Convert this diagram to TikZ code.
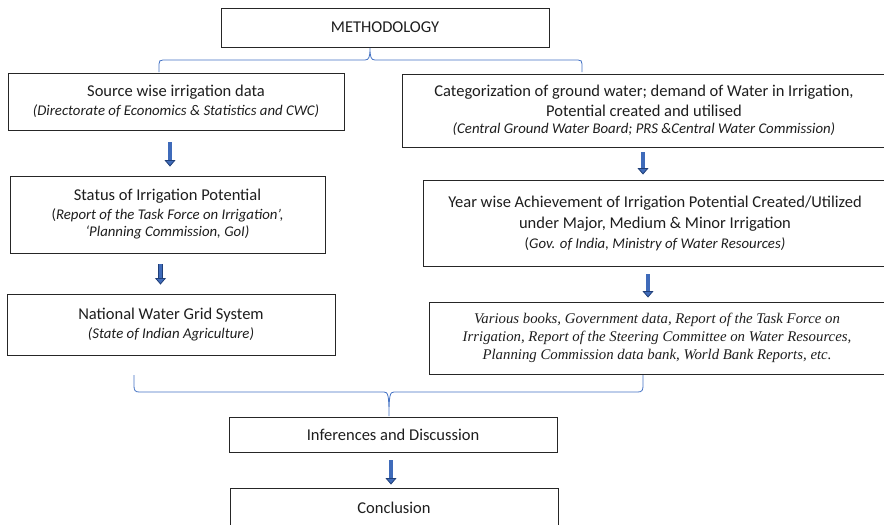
\documentclass[tikz,border=0pt]{standalone}
\usepackage{fontspec}
\setmainfont{Carlito}
\newfontfamily\timesfam{Liberation Serif}
\usetikzlibrary{arrows.meta}
\definecolor{braceblue}{HTML}{4472C4}
\definecolor{afill}{HTML}{3F6BBA}
\definecolor{adark}{HTML}{203F78}
\definecolor{boxline}{HTML}{262626}
\definecolor{txt}{HTML}{1E1E1E}
\begin{document}
\begin{tikzpicture}[x=1pt,y=-1pt,
  box/.style={draw=boxline, line width=0.9pt, inner sep=0pt, align=center, text=txt,
    font=\fontsize{16.5}{19.5}\selectfont},
  blockarrow/.style={draw=adark, line width=0.8pt, double=afill, double distance=3.2pt,
    -{Triangle[width=11pt,length=6.5pt,fill=afill,line width=0.8pt]}},
  brace/.style={draw=braceblue, line width=0.8pt}
]
\newcommand{\srcfont}{\fontsize{14.8}{18}\selectfont}
\clip (0,0) rectangle (884,525);
\fill[white] (0,0) rectangle (884,525);

\node[box, minimum width=328pt, minimum height=39pt] (meth) at (385,27.5) {METHODOLOGY};

\node[box, minimum width=336pt, minimum height=57pt] (source) at (176,101.5)
  {Source wise irrigation data\\[-1pt]{\srcfont\itshape (Directorate of Economics \& Statistics and CWC)}};

\node[box, minimum width=315pt, minimum height=77pt] (status) at (167.5,214.5)
  {Status of Irrigation Potential\\[-1pt]{\srcfont(\textit{Report of the Task Force on Irrigation’,}}\\[-2pt]{\srcfont\itshape ‘Planning Commission, GoI)}};

\node[box, minimum width=328pt, minimum height=61pt] (national) at (171,324.5)
  {National Water Grid System\\[-1pt]{\srcfont\itshape (State of Indian Agriculture)}};

\node[box, minimum width=484pt, minimum height=73pt] (categ) at (644,110.5)
  {Categorization of ground water; demand of Water in Irrigation,\\Potential created and utilised\\[-2pt]{\srcfont\itshape (Central Ground Water Board; PRS \&Central Water Commission)}};

\node[box, minimum width=464pt, minimum height=86pt] (year) at (655,223)
  {Year wise Achievement of Irrigation Potential Created/Utilized\\[2pt]under Major, Medium \& Minor Irrigation\\{\srcfont(\textit{Gov. of India, Ministry of Water Resources)}}};

\node[box, minimum width=456pt, minimum height=72pt, font=\timesfam\itshape\fontsize{14.8}{18}\selectfont] (various) at (657,338)
  {Various books, Government data, Report of the Task Force on\\Irrigation, Report of the Steering Committee on Water Resources,\\Planning Commission data bank, World Bank Reports, etc.};

\node[box, minimum width=328pt, minimum height=35pt] (infer) at (393,434.5) {Inferences and Discussion};

\node[box, minimum width=328pt, minimum height=39pt] (concl) at (394,507.5) {Conclusion};

% arrows
\draw[blockarrow] ([xshift=-6pt,yshift=-12pt]source.south) -- ([xshift=2.5pt,yshift=9pt]status.north);
\draw[blockarrow] ([xshift=-7pt,yshift=-11pt]status.south) -- ([xshift=-10.5pt,yshift=9pt]national.north);
\draw[blockarrow] ([xshift=-1pt,yshift=-5pt]categ.south) -- ([xshift=-12pt,yshift=5pt]year.north);
\draw[blockarrow] ([xshift=-7pt,yshift=-8pt]year.south) -- ([xshift=-9pt,yshift=4pt]various.north);
\draw[blockarrow] ([xshift=-2pt,yshift=-8pt]infer.south) -- ([xshift=-3pt,yshift=3pt]concl.north);

% braces
\coordinate (tl) at (159,72);
\coordinate (tm) at (370,48);
\coordinate (tr) at (582,72);
\draw[brace] (tl) -- (159,64) .. controls (159,61) and (160,60) .. (163,60) -- (365,60)
  .. controls (369,60) and (370,57) .. (tm) .. controls (370,57) and (371,60) .. (375,60)
  -- (578,60) .. controls (581,60) and (582,61) .. (582,64) -- (tr);

\coordinate (bl) at (134,375);
\coordinate (bm) at (389,416);
\coordinate (br) at (643,375);
\draw[brace] (bl) -- (134,386) .. controls (134,390) and (135,392) .. (139,392) -- (384,392)
  .. controls (388,392) and (389,395) .. (bm) .. controls (389,395) and (390,392) .. (394,392)
  -- (638,392) .. controls (642,392) and (643,390) .. (643,386) -- (br);
\end{tikzpicture}
\end{document}
